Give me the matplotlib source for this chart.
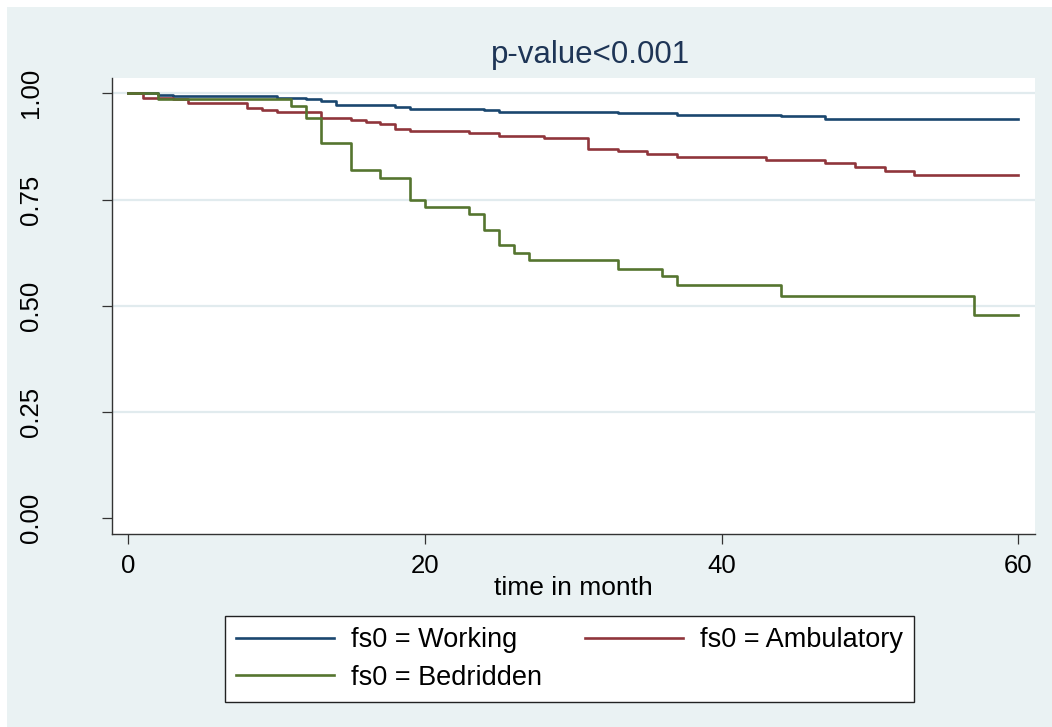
import matplotlib.pyplot as plt
from matplotlib.patches import Rectangle

plt.rcParams['font.family'] = ['Liberation Sans', 'DejaVu Sans']

# Kaplan-Meier steps (time in month, survival)
t_working = [0, 2, 3, 10, 12, 13, 14, 18, 19, 24, 25, 33, 37, 44, 47, 60]
s_working = [1.0, 0.995, 0.993, 0.990, 0.9865, 0.982, 0.972, 0.968, 0.962,
             0.960, 0.957, 0.954, 0.950, 0.946, 0.939, 0.939]

t_ambulatory = [0, 1, 3, 4, 8, 9, 10, 13, 15, 16, 17, 18, 19, 23, 25, 28,
                31, 33, 35, 37, 43, 47, 49, 51, 53, 60]
s_ambulatory = [1.0, 0.990, 0.986, 0.976, 0.966, 0.960, 0.955, 0.942, 0.936,
                0.932, 0.927, 0.917, 0.911, 0.906, 0.900, 0.894, 0.870, 0.864,
                0.858, 0.851, 0.842, 0.836, 0.826, 0.818, 0.807, 0.807]

t_bedridden = [0, 2, 11, 12, 13, 15, 17, 19, 20, 23, 24, 25, 26, 27, 33, 36,
               37, 44, 57, 60]
s_bedridden = [1.0, 0.986, 0.971, 0.942, 0.883, 0.819, 0.801, 0.748, 0.733,
               0.715, 0.678, 0.642, 0.625, 0.607, 0.5875, 0.569, 0.548, 0.522,
               0.478, 0.478]

labels = ["fs0 = Working", "fs0 = Ambulatory", "fs0 = Bedridden"]
colors = ["#1A476F", "#90353B", "#55752F"]
yticks = [0.0, 0.25, 0.5, 0.75, 1.0]
xticks = [0, 20, 40, 60]

W, H = 1052, 727
fig = plt.figure(figsize=(W / 100, H / 100), dpi=100, facecolor="white")
# Stata-like graph region (light bluish), thin white strip top/left
fig.patches.append(Rectangle((7 / W, 0), 1, 1 - 7 / H, transform=fig.transFigure,
                             facecolor="#EAF2F3", edgecolor="none", zorder=-10))

ax = fig.add_axes([111.7 / W, 1 - 534 / H, (1035 - 111.7) / W, (534 - 78) / H])
ax.set_facecolor("white")

for y in yticks[1:]:
    ax.axhline(y, color="#E1EBEE", lw=1.6, zorder=1)

series = [(t_working, s_working), (t_ambulatory, s_ambulatory), (t_bedridden, s_bedridden)]
handles = []
for (t, s), lab, c in zip(series, labels, colors):
    h, = ax.step(t, s, where="post", color=c, lw=1.9, label=lab, zorder=3)
    handles.append(h)

ax.set_xlim(-1.12, 61.13)
ax.set_ylim(-0.037, 1.036)
ax.set_xticks(xticks)
ax.set_yticks(yticks)
ax.set_yticklabels([f"{v:.2f}" for v in yticks], rotation=90, va="center")
ax.tick_params(axis="both", direction="out", length=7.5, width=0.9,
               color="#333333", labelsize=18.5)
ax.tick_params(axis="x", pad=7)
ax.tick_params(axis="y", pad=42)

for side in ["top", "right"]:
    ax.spines[side].set_visible(False)
for side in ["left", "bottom"]:
    ax.spines[side].set_color("#333333")
    ax.spines[side].set_linewidth(1.0)

fig.text(573 / W, 1 - 588 / H, "time in month", ha="center", va="center", fontsize=19)
fig.text(591 / W, 1 - 55 / H, "p-value<0.001", ha="center", va="center",
         fontsize=22.5, color="#1E3556")

# row-wise order like Stata: Working, Ambulatory / Bedridden
order = [0, 2, 1]
leg = fig.legend([handles[i] for i in order], [labels[i] for i in order],
                 loc="upper left", bbox_to_anchor=(225 / W, 1 - 616 / H),
                 ncol=2, fontsize=19.5, frameon=True, fancybox=False,
                 facecolor="white", framealpha=1, edgecolor="#222222",
                 handlelength=3.6, handletextpad=0.63,
                 borderaxespad=0, borderpad=0.42, labelspacing=0.42, columnspacing=1.6)
leg.get_frame().set_linewidth(1.0)
for line in leg.get_lines():
    line.set_linewidth(1.9)

fig.savefig("out.png", dpi=100, facecolor=fig.get_facecolor())
